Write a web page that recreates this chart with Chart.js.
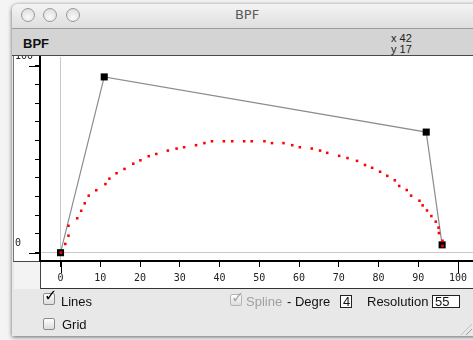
<!DOCTYPE html>
<html lang="en">
  <head>
    <meta charset="UTF-8" />
    <title>BPF</title>
    <script src="https://cdn.jsdelivr.net/npm/chart.js@4.4.0/dist/chart.umd.min.js"></script>
    <style>
      body {
        margin: 0;
        width: 473px;
        height: 340px;
        position: relative;
        overflow: hidden;
        background: #f4f4f4;
        font-family: "Liberation Sans", Arial, sans-serif;
      }
      .abs { position: absolute; }
      .win {
        left: 12px; top: 4px; width: 480px; height: 332px;
        background: #e8e8e8;
        border-radius: 6px 6px 0 0;
        box-shadow: 0 1px 4px rgba(0, 0, 0, 0.6);
      }
      .titlebar {
        left: 12px; top: 4px; width: 470px; height: 24px;
        border-radius: 6px 6px 0 0;
        background: linear-gradient(#f4f4f4, #dedede);
        border-bottom: 1px solid #9c9c9c;
      }
      .btn {
        width: 14px; height: 14px; top: 8px;
        border-radius: 50%;
        border: 1px solid #9a9a9a;
        box-sizing: border-box;
        background: radial-gradient(circle at 50% 70%, #fafafa, #d8d8d8);
      }
      .wintitle {
        left: 200px; top: 7px; width: 94px; text-align: center;
        font-family: "DejaVu Sans", sans-serif; font-size: 13px; color: #5a5a5a;
      }
      .toolbar {
        left: 12px; top: 29px; width: 470px; height: 26px;
        background: #d4d4d4;
        border-bottom: 1px solid #4a4a4a;
      }
      .tbname { left: 23px; top: 36px; font-size: 13px; font-weight: bold; color: #111; }
      .coord { left: 391px; font-size: 11px; color: #222; }
      .ypanel {
        left: 13px; top: 56px; width: 26px; height: 205px;
        background: #fff;
        border-left: 1px solid #777;
        border-bottom: 1px solid #444;
      }
      .plotbg { left: 40px; top: 56px; width: 433px; height: 233px; background: #fff; }
      .xbottom { left: 40px; top: 288px; width: 433px; height: 1px; background: #333; }
      .xleft { left: 40px; top: 262px; width: 1px; height: 27px; background: #444; }
      .corner { left: 14px; top: 262px; width: 26px; height: 27px; background: #f3f3f3; }
      #bpf { left: 15px; top: 56px; }
      .cb {
        width: 12px; height: 12px;
        border: 1px solid #8a8a8a; border-radius: 2px; box-sizing: border-box;
        background: linear-gradient(#ffffff, #dcdcdc);
      }
      .tick { font-family: "DejaVu Sans", sans-serif; font-size: 16px; line-height: 16px; }
      .lbl { font-size: 13px; line-height: 15px; color: #111; }
      .numbox {
        height: 13px; border: 1px solid #222; background: #fff; box-sizing: border-box;
        font-size: 13px; line-height: 11px; padding-left: 2px; color: #111;
      }
      .grip {
        left: 461px; top: 324px; width: 11px; height: 11px;
        background: repeating-linear-gradient(135deg, transparent 0 3px, #9a9a9a 3px 4px);
        clip-path: polygon(100% 0, 100% 100%, 0 100%);
      }
    </style>
  </head>
  <body>
    <div class="abs win"></div>
    <div class="abs titlebar"></div>
    <div class="abs btn" style="left: 21px"></div>
    <div class="abs btn" style="left: 43px"></div>
    <div class="abs btn" style="left: 66px"></div>
    <div class="abs wintitle">BPF</div>
    <div class="abs toolbar"></div>
    <div class="abs tbname">BPF</div>
    <div class="abs coord" style="top: 32px">x 42</div>
    <div class="abs coord" style="top: 43px">y 17</div>

    <div class="abs ypanel"></div>
    <div class="abs plotbg"></div>
    <div class="abs corner"></div>
    <div class="abs xbottom"></div>
    <div class="abs xleft"></div>
    <canvas id="bpf" class="abs" width="458" height="233"></canvas>

    <!-- controls under the editor -->
    <div class="abs cb" style="left: 43px; top: 293px"></div>
    <div class="abs tick" style="left: 44px; top: 288px; color: #000">✓</div>
    <div class="abs lbl" style="left: 61px; top: 294px">Lines</div>
    <div class="abs cb" style="left: 43px; top: 318px"></div>
    <div class="abs lbl" style="left: 62px; top: 317px">Grid</div>
    <div class="abs cb" style="left: 230px; top: 294px; border-color: #b4b4b4"></div>
    <div class="abs tick" style="left: 231px; top: 290px; color: #a8a8a8">✓</div>
    <div class="abs lbl" style="left: 246px; top: 294px; color: #a0a0a0">Spline</div>
    <div class="abs lbl" style="left: 287px; top: 294px">- Degre</div>
    <div class="abs numbox" style="left: 340px; top: 295px; width: 12px">4</div>
    <div class="abs lbl" style="left: 367px; top: 294px">Resolution</div>
    <div class="abs numbox" style="left: 432px; top: 295px; width: 28px">55</div>
    <div class="abs grip"></div>

    <script>
      // break points of the BPF
      const bpfX = [0, 11, 92, 96];
      const bpfY = [0, 94, 64.5, 4.2];

      // spline curve, 55 points
      const splineX = [
        0.1, 1.2, 2.0, 2.0, 4.2, 5.2, 6.1, 7.1, 9.0, 11.3, 12.3, 14.1, 16.1,
        18.3, 20.1, 22.2, 24.1, 27.0, 29.2, 31.1, 34.1, 36.2, 38.1, 41.1, 43.2,
        46.2, 48.1, 51.3, 53.2, 56.1, 58.3, 60.2, 63.2, 65.3, 67.1, 70.1, 72.2,
        74.6, 76.6, 78.4, 80.4, 82.2, 84.1, 85.2, 87.1, 88.2, 90.3, 91.1, 92.2,
        93.3, 94.4, 95.1, 95.2, 96.1, 96.1,
      ];
      const splineY = [
        0, 4.7, 9.1, 14.4, 18.4, 22.4, 26.4, 30.5, 33.4, 36.7, 39.6, 42.5, 44.8,
        47.6, 49.4, 51.6, 52.8, 54.6, 55.7, 56.4, 57.5, 58.6, 59.6, 59.6, 59.6,
        59.6, 59.6, 59.6, 58.6, 58.6, 57.5, 56.4, 55.7, 54.6, 53.4, 51.8, 50.6,
        49.1, 46.9, 45.4, 43.3, 41.1, 38.7, 35.7, 33.5, 30.5, 27.8, 25.3, 22.6,
        19.6, 16.6, 13.4, 10.5, 6.4, 3.6,
      ];

      const xTickValues = [0, 10, 20, 30, 40, 50, 60, 70, 80, 90, 100];
      const yTickValues = [0, 10, 20, 30, 40, 50, 60, 70, 80, 90, 100];
      const yLabelValues = [0, 100];
      const longXTicks = [0, 100];

      const bpfPoints = bpfX.map((x, i) => ({ x: x, y: bpfY[i] }));
      const splinePoints = splineX.map((x, i) => ({ x: x, y: splineY[i] }));

      const zeroGrid = (ctx) =>
        ctx.tick && ctx.tick.value === 0 ? "#c9c9c9" : "rgba(0,0,0,0)";

      // longer ticks at 0 and 100, like the editor rulers
      const longTicks = {
        id: "longTicks",
        afterDraw(chart) {
          const { ctx, chartArea, scales } = chart;
          ctx.save();
          ctx.strokeStyle = "#000";
          ctx.lineWidth = 1;
          yLabelValues.forEach((v) => {
            const py = Math.round(scales.y.getPixelForValue(v)) + 0.5;
            ctx.beginPath();
            ctx.moveTo(chartArea.left - 11, py);
            ctx.lineTo(chartArea.left, py);
            ctx.stroke();
          });
          longXTicks.forEach((v) => {
            const px = Math.round(scales.x.getPixelForValue(v)) + 0.5;
            ctx.beginPath();
            ctx.moveTo(px, chartArea.bottom);
            ctx.lineTo(px, chartArea.bottom + 12);
            ctx.stroke();
          });
          ctx.restore();
        },
      };

      const monoFont = { family: "DejaVu Sans Mono", size: 10 };

      new Chart(document.getElementById("bpf"), {
        type: "scatter",
        data: {
          datasets: [
            {
              label: "spline",
              data: splinePoints,
              showLine: false,
              pointStyle: "rect",
              pointRadius: 1.8,
              pointBorderWidth: 0,
              pointBackgroundColor: "#ff0000",
            },
            {
              label: "bpf",
              data: bpfPoints,
              showLine: true,
              borderColor: "#8c8c8c",
              borderWidth: 1.2,
              pointStyle: "rect",
              pointRadius: 5,
              pointBorderWidth: 0,
              pointBackgroundColor: "#000",
            },
          ],
        },
        options: {
          responsive: false,
          animation: false,
          layout: { autoPadding: false, padding: { top: 1, left: 0, right: 0, bottom: 0 } },
          plugins: { legend: { display: false }, tooltip: { enabled: false } },
          scales: {
            x: {
              type: "linear",
              position: "bottom",
              min: -5.16,
              max: 103.77,
              afterBuildTicks: (s) => {
                s.ticks = xTickValues.map((v) => ({ value: v }));
              },
              afterFit: (s) => {
                s.height = 28;
                s.paddingLeft = 0;
                s.paddingRight = 0;
              },
              border: { color: "#000", width: 2 },
              grid: { color: zeroGrid, tickColor: "#000", tickLength: 6 },
              ticks: {
                font: monoFont,
                color: "#222",
                padding: 5,
                maxRotation: 0,
                autoSkip: false,
                callback: (v) => String(v),
              },
            },
            y: {
              type: "linear",
              position: "left",
              min: -4.44,
              max: 104.65,
              afterBuildTicks: (s) => {
                s.ticks = yTickValues.map((v) => ({ value: v }));
              },
              afterFit: (s) => {
                s.width = 25;
                s.paddingTop = 0;
                s.paddingBottom = 0;
              },
              border: { color: "#000", width: 2 },
              grid: { color: zeroGrid, tickColor: "#000", tickLength: 5 },
              ticks: {
                font: monoFont,
                color: "#222",
                crossAlign: "far",
                labelOffset: -9,
                autoSkip: false,
                callback: (v) => (yLabelValues.includes(v) ? String(v) : ""),
              },
            },
          },
        },
        plugins: [longTicks],
      });
    </script>
  </body>
</html>
